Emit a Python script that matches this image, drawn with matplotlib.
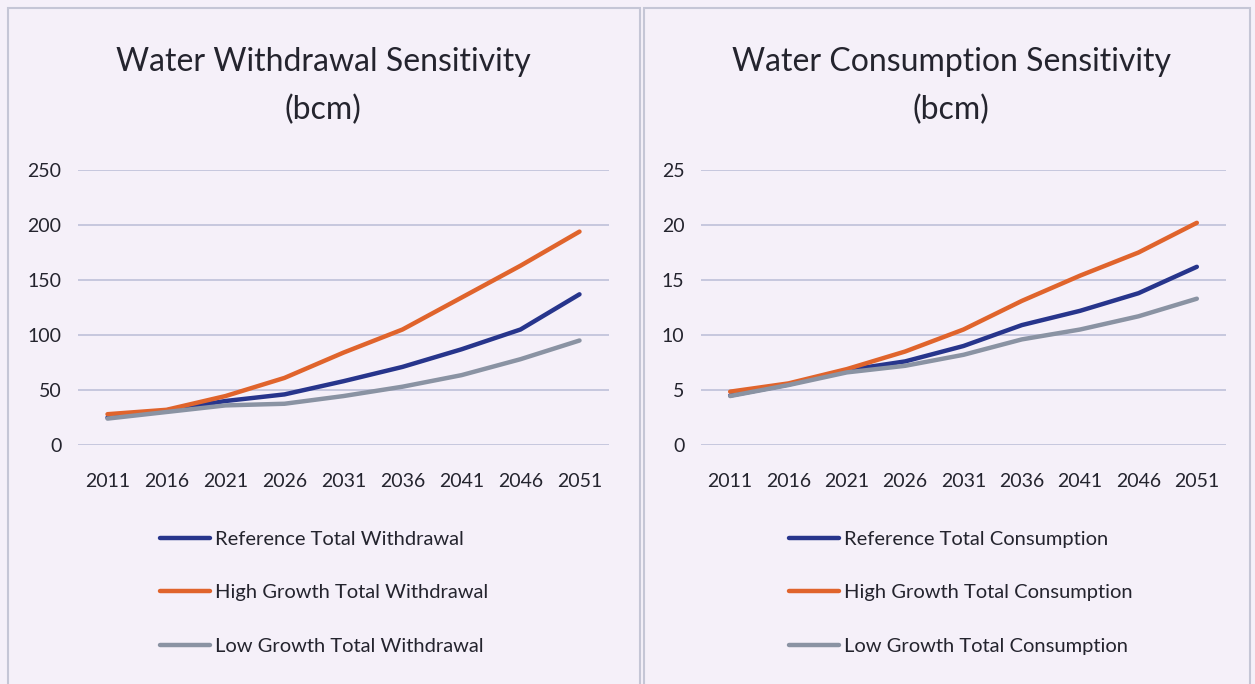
import matplotlib
matplotlib.use("Agg")
import matplotlib.pyplot as plt
from matplotlib.patches import Rectangle

plt.rcParams['font.family'] = ['Lato', 'DejaVu Sans']

years = ["2011", "2016", "2021", "2026", "2031", "2036", "2041", "2046", "2051"]

withdrawal_reference = [25, 31.5, 40, 46, 58, 71, 87, 105, 137]
withdrawal_high = [28, 32, 44.5, 61, 84, 105, 134, 163, 194]
withdrawal_low = [24, 30, 36, 37.5, 44.5, 53, 63.5, 78, 95]

consumption_reference = [4.5, 5.5, 6.8, 7.6, 9.0, 10.9, 12.2, 13.8, 16.2]
consumption_high = [4.85, 5.6, 6.9, 8.5, 10.5, 13.1, 15.4, 17.5, 20.2]
consumption_low = [4.45, 5.45, 6.6, 7.2, 8.2, 9.6, 10.5, 11.7, 13.3]

withdrawal_ticks = [0, 50, 100, 150, 200, 250]
consumption_ticks = [0, 5, 10, 15, 20, 25]

C_REF = '#27358c'
C_HIGH = '#e0642c'
C_LOW = '#8a93a3'
BG = '#f5f0f9'
GRID = '#b9bcd6'
TEXT = '#24242e'

W, H = 1255, 684
fig = plt.figure(figsize=(W / 100, H / 100), dpi=100)
fig.patch.set_facecolor(BG)

def fx(px):
    return px / W

def fy(py):
    return 1 - py / H

# panel borders
for x0, x1 in [(8, 640), (644, 1250)]:
    fig.patches.append(Rectangle((fx(x0), fy(690)), fx(x1 - x0), (690 - 8) / H,
                                 transform=fig.transFigure, fill=False,
                                 edgecolor='#c5c6d6', linewidth=1.5))

panels = [
    dict(l=78, r=609, title="Water Withdrawal Sensitivity\n(bcm)", tcx=323,
         series=[withdrawal_reference, withdrawal_high, withdrawal_low],
         labels=["Reference Total Withdrawal", "High Growth Total Withdrawal",
                 "Low Growth Total Withdrawal"],
         ticks=withdrawal_ticks, lx=160),
    dict(l=701, r=1226, title="Water Consumption Sensitivity\n(bcm)", tcx=951,
         series=[consumption_reference, consumption_high, consumption_low],
         labels=["Reference Total Consumption", "High Growth Total Consumption",
                 "Low Growth Total Consumption"],
         ticks=consumption_ticks, lx=789),
]

top, bottom = 170, 445
for p in panels:
    ax = fig.add_axes([fx(p['l']), fy(bottom), fx(p['r'] - p['l']), (bottom - top) / H])
    ax.set_facecolor('none')
    x = list(range(len(years)))
    for vals, col, lab in zip(p['series'], [C_REF, C_HIGH, C_LOW], p['labels']):
        ax.plot(x, vals, color=col, linewidth=3.2, label=lab, solid_capstyle='round')
    ax.set_xlim(-0.5, len(years) - 0.5)
    ax.set_ylim(p['ticks'][0], p['ticks'][-1])
    ax.set_yticks(p['ticks'])
    ax.set_xticks(x)
    ax.set_xticklabels(years)
    ax.grid(axis='y', color=GRID, linewidth=1.1)
    ax.set_axisbelow(True)
    for s in ax.spines.values():
        s.set_visible(False)
    ax.tick_params(length=0, labelsize=14, colors=TEXT)
    ax.tick_params(axis='x', pad=20)
    ax.tick_params(axis='y', pad=12)
    fig.text(fx(p['tcx']), fy(86), p['title'], ha='center', va='center',
             fontsize=23, color=TEXT, linespacing=1.75)
    leg = ax.legend(loc='upper left', bbox_to_anchor=(fx(p['lx']), fy(531)),
                    bbox_transform=fig.transFigure, frameon=False,
                    fontsize=14.5, handlelength=2.5, handletextpad=0.25,
                    labelspacing=1.8, borderaxespad=0, borderpad=0)
    for t in leg.get_texts():
        t.set_color(TEXT)

fig.savefig('out.png', dpi=100, facecolor=BG)
